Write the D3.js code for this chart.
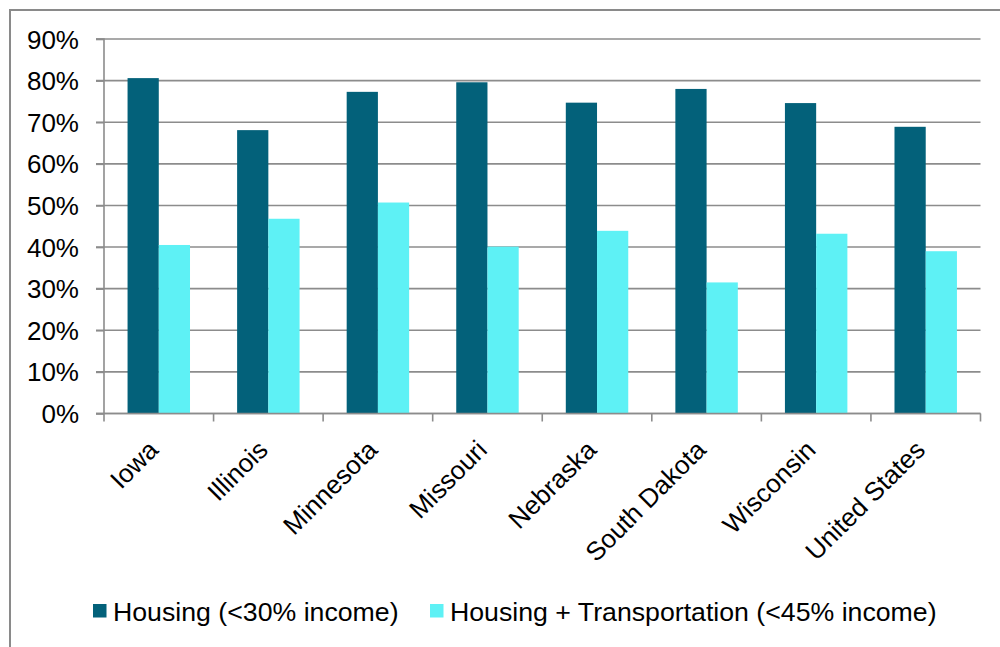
<!DOCTYPE html>
<html>
<head>
<meta charset="utf-8">
<script src="https://cdn.jsdelivr.net/npm/d3@7"></script>
<style>
  html, body { margin: 0; padding: 0; background: #fff; }
  svg { display: block; font-family: Arial, "Liberation Sans", sans-serif; }
</style>
</head>
<body>
<svg id="chart" width="1000" height="647"></svg>
<script>
const categories = ["Iowa", "Illinois", "Minnesota", "Missouri", "Nebraska", "South Dakota", "Wisconsin", "United States"];
const seriesNames = ["Housing (<30% income)", "Housing + Transportation (<45% income)"];
const housing = [80.6, 68.1, 77.3, 79.6, 74.7, 78.0, 74.6, 68.9];
const housingTransport = [40.5, 46.8, 50.7, 40.1, 43.9, 31.5, 43.2, 39.0];
const yTicks = [0, 10, 20, 30, 40, 50, 60, 70, 80, 90];
const colors = ["#03617a", "#5ef1f5"];

const svg = d3.select("#chart");
const W = 1000, H = 647;
const plotLeft = 104, plotRight = 980.5, plotTop = 39, plotBottom = 413.5;
const FS = 26;

// outer frame
svg.append("rect").attr("x", 10).attr("y", 10).attr("width", W + 20).attr("height", H + 20)
  .attr("fill", "none").attr("stroke", "#8a8a8a").attr("stroke-width", 2);

const x = d3.scaleBand().domain(categories).range([plotLeft, plotRight]).paddingInner(0.43).paddingOuter(0.215);
const xs = d3.scaleBand().domain([0, 1]).range([0, x.bandwidth()]);
const y = d3.scaleLinear().domain([0, 90]).range([plotBottom, plotTop]);

// gridlines
svg.append("g").selectAll("line").data(yTicks).join("line")
  .attr("x1", plotLeft - 8).attr("x2", plotRight)
  .attr("y1", d => y(d)).attr("y2", d => y(d))
  .attr("stroke", "#8c8c8c").attr("stroke-width", 1.6);

// y axis
const yAxis = d3.axisLeft(y).tickValues(yTicks).tickFormat(d => d + "%").tickSize(8).tickPadding(17);
const gy = svg.append("g").attr("transform", `translate(${plotLeft},0)`).call(yAxis);
gy.attr("font-size", FS).attr("font-family", "Arial, 'Liberation Sans', sans-serif");
gy.select(".domain").attr("stroke", "#8c8c8c").attr("stroke-width", 1.6).attr("d", `M-8,${y(90)}H0V${plotBottom}`);
gy.selectAll(".tick line").attr("stroke", "#8c8c8c").attr("stroke-width", 1.6);
gy.selectAll(".tick text").attr("fill", "#000").attr("dy", "0.35em");

// bars
const groups = svg.append("g").selectAll("g").data(categories).join("g")
  .attr("transform", d => `translate(${x(d)},0)`);
const seriesData = [housing, housingTransport];
groups.selectAll("rect").data((d, i) => seriesData.map((s, k) => ({k, v: s[i]}))).join("rect")
  .attr("x", d => xs(d.k)).attr("width", xs.bandwidth())
  .attr("y", d => y(d.v)).attr("height", d => plotBottom - y(d.v))
  .attr("fill", d => colors[d.k]);

// x axis
const xAxisScale = d3.scaleLinear().domain([0, categories.length]).range([plotLeft, plotRight]);
const gx = svg.append("g");
gx.append("line").attr("x1", plotLeft - 8).attr("x2", plotRight).attr("y1", plotBottom).attr("y2", plotBottom)
  .attr("stroke", "#8c8c8c").attr("stroke-width", 1.6);
gx.selectAll("line.t").data(d3.range(categories.length + 1)).join("line").attr("class", "t")
  .attr("x1", d => xAxisScale(d)).attr("x2", d => xAxisScale(d))
  .attr("y1", plotBottom).attr("y2", plotBottom + 8)
  .attr("stroke", "#8c8c8c").attr("stroke-width", 1.6);

svg.append("g").selectAll("text").data(categories).join("text")
  .attr("transform", d => `translate(${x(d) + x.bandwidth() / 2 + 1},${plotBottom + 38}) rotate(-45)`)
  .attr("text-anchor", "end")
  .attr("font-size", FS).attr("fill", "#000")
  .text(d => d);

// legend
const legendItems = [{name: seriesNames[0], color: colors[0], x: 93}, {name: seriesNames[1], color: colors[1], x: 430}];
const lg = svg.append("g").selectAll("g").data(legendItems).join("g")
  .attr("transform", d => `translate(${d.x},604)`);
lg.append("rect").attr("width", 13.5).attr("height", 13.5).attr("fill", d => d.color);
lg.append("text").attr("x", 20).attr("y", 17).attr("font-size", 26.7).attr("fill", "#000").text(d => d.name);
</script>
</body>
</html>
